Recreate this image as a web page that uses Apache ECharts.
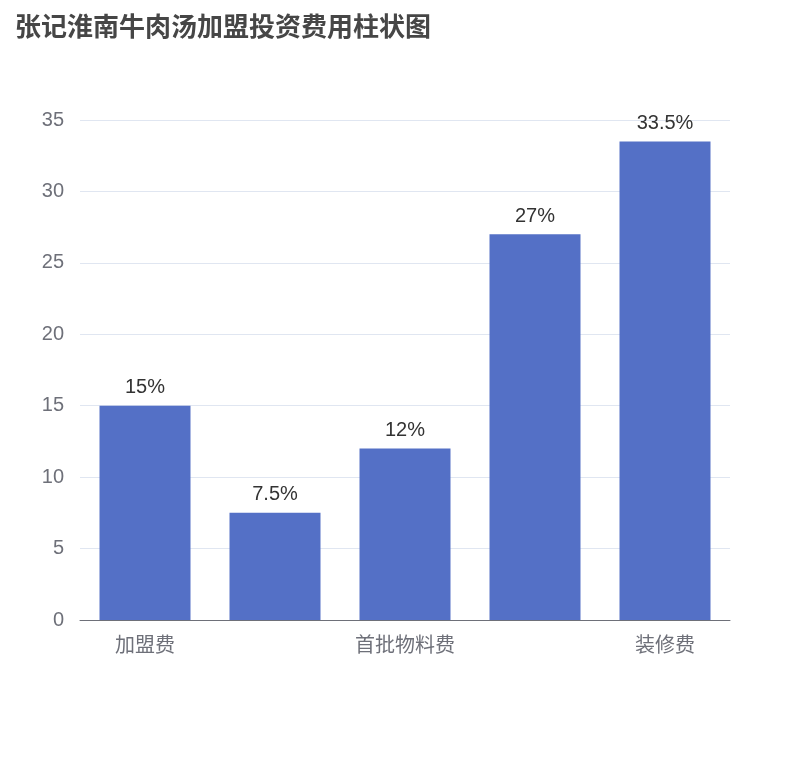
<!DOCTYPE html>
<html>
<head>
<meta charset="utf-8">
<script src="https://cdn.jsdelivr.net/npm/echarts@6/dist/echarts.min.js"></script>
<style>body{margin:0}#main{width:810px;height:760px}</style>
</head>
<body>
<div id="main"></div>
<script>
// data
var categories = ['加盟费', '设备购置费', '首批物料费', '店面租金费', '装修费'];
var values = [15, 7.5, 12, 27, 33.5];
var yTicks = [0, 35, 5];

var myChart = echarts.init(document.getElementById('main'));
myChart.setOption({
    title: {
        text: '张记淮南牛肉汤加盟投资费用柱状图',
        left: 10,
        top: 8,
        textStyle: {color: '#464646', fontSize: 26, fontWeight: 'bold', fontFamily: 'Noto Sans CJK SC'}
    },
    grid: {left: 80, right: 80, top: 120, bottom: 140},
    xAxis: {
        type: 'category',
        data: categories,
        axisLine: {lineStyle: {color: '#6e7079'}},
        axisTick: {interval: 1},
        axisLabel: {interval: 1, fontSize: 20, color: '#6e7079', margin: 14, fontFamily: 'Noto Sans CJK SC'}
    },
    yAxis: {
        type: 'value',
        min: yTicks[0],
        max: yTicks[1],
        interval: yTicks[2],
        axisLabel: {fontSize: 20, color: '#6e7079', margin: 16},
        splitLine: {lineStyle: {color: '#e0e6f1'}}
    },
    series: [{
        type: 'bar',
        data: values,
        barWidth: '70%',
        itemStyle: {color: '#5470c6'},
        label: {show: true, position: 'top', formatter: '{c}%', fontSize: 20, color: '#333', distance: 8}
    }]
});
</script>
</body>
</html>
